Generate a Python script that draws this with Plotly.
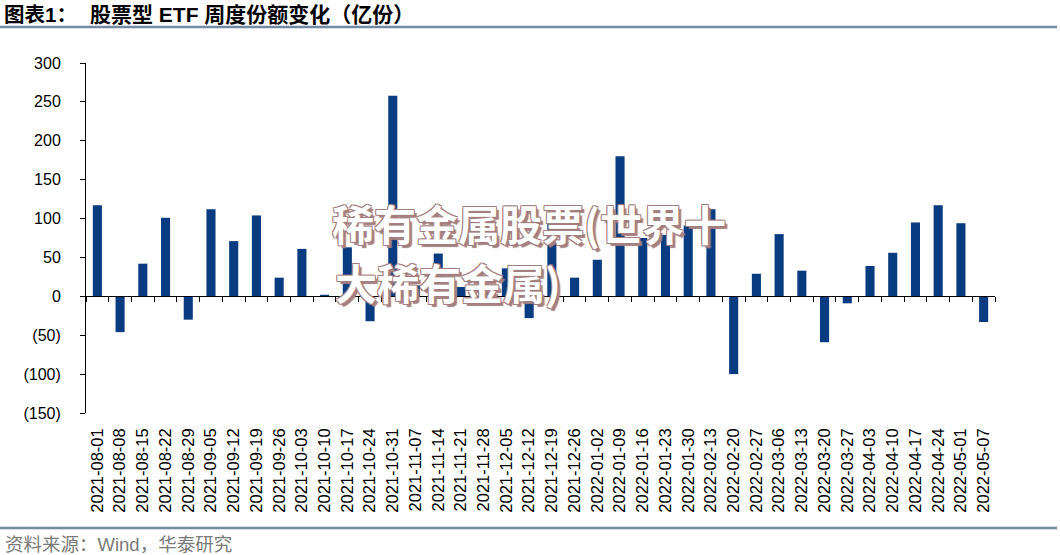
import plotly.graph_objects as go

weeks = [
    "2021-08-01", "2021-08-08", "2021-08-15", "2021-08-22", "2021-08-29",
    "2021-09-05", "2021-09-12", "2021-09-19", "2021-09-26", "2021-10-03",
    "2021-10-10", "2021-10-17", "2021-10-24", "2021-10-31", "2021-11-07",
    "2021-11-14", "2021-11-21", "2021-11-28", "2021-12-05", "2021-12-12",
    "2021-12-19", "2021-12-26", "2022-01-02", "2022-01-09", "2022-01-16",
    "2022-01-23", "2022-01-30", "2022-02-13", "2022-02-20", "2022-02-27",
    "2022-03-06", "2022-03-13", "2022-03-20", "2022-03-27", "2022-04-03",
    "2022-04-10", "2022-04-17", "2022-04-24", "2022-05-01", "2022-05-07",
]
share_change = [
    117, -46, 42, 101, -30,
    112, 71, 104, 24, 61,
    2, 63, -32, 258, 14,
    55, 12, 11, 36, -28,
    96, 24, 47, 180, 75,
    79, 91, 112, -100, 29,
    80, 33, -59, -9, 39,
    56, 95, 117, 94, -33,
]
y_tickvals = [300, 250, 200, 150, 100, 50, 0, -50, -100, -150]
y_ticktext = ["300", "250", "200", "150", "100", "50", "0", "(50)", "(100)", "(150)"]

title_prefix = "图表1："
title_text = "股票型 ETF 周度份额变化（亿份）"
source_text = "资料来源：Wind，华泰研究"
watermark_1 = "稀有金属股票(世界十"
watermark_2 = "大稀有金属)"

BAR = "#083B7F"
RULE = "#7489A2"
FONT = "Liberation Sans, Arial, Noto Sans CJK SC, sans-serif"

# plot area in pixels
L, R, T, B = 86, 995, 63, 413
W, H = 1060, 555
PW, PH = R - L, B - T


def px(x):
    return (x - L) / PW


def py(y):
    return (B - y) / PH


fig = go.Figure()
fig.add_trace(go.Bar(
    x=weeks, y=share_change, marker=dict(color=BAR, line=dict(width=0)),
    xaxis="x", yaxis="y", showlegend=False, hoverinfo="x+y",
))
fig.add_trace(go.Scatter(
    x=weeks, y=[None] * len(weeks), xaxis="x2", yaxis="y",
    mode="markers", showlegend=False, hoverinfo="skip",
))

fig.update_layout(
    width=W, height=H,
    margin=dict(l=L, r=W - R, t=T, b=H - B),
    paper_bgcolor="white", plot_bgcolor="white",
    bargap=0.6,
    font=dict(family=FONT, color="black"),
    xaxis=dict(
        type="category", categoryorder="array", categoryarray=weeks,
        range=[-0.5, len(weeks) - 0.5],
        anchor="free", position=150 / 450,
        showline=True, linecolor="black", linewidth=1,
        ticks="outside", ticklen=5, tickcolor="black", tickwidth=1,
        tickson="boundaries", showticklabels=False,
        showgrid=False, zeroline=False,
    ),
    xaxis2=dict(
        type="category", categoryorder="array", categoryarray=weeks,
        range=[-0.5, len(weeks) - 0.5], matches="x",
        overlaying="x", anchor="y", side="bottom",
        showline=False, ticks="", showgrid=False, zeroline=False,
        tickangle=-90, tickfont=dict(size=16.5, family=FONT, color="black"),
        ticklabelstandoff=11,
    ),
    yaxis=dict(
        range=[-150, 300], tickvals=y_tickvals, ticktext=y_ticktext,
        showline=True, linecolor="black", linewidth=1,
        ticks="outside", ticklen=5, tickcolor="black",
        tickfont=dict(size=16, family=FONT, color="black"),
        ticklabelstandoff=16,
        showgrid=False, zeroline=False,
    ),
)

annotations = [
    dict(text="<b>" + title_prefix + "</b>", x=px(2), y=py(14), xref="paper", yref="paper",
         xanchor="left", yanchor="middle", showarrow=False,
         font=dict(size=20.5, family="Liberation Sans, Noto Sans CJK SC", color="black")),
    dict(text="<b>" + title_text + "</b>", x=px(88), y=py(14), xref="paper", yref="paper",
         xanchor="left", yanchor="middle", showarrow=False,
         font=dict(size=21, family="Liberation Sans, Noto Sans CJK SC", color="black")),
    dict(text=source_text, x=px(3), y=py(544), xref="paper", yref="paper",
         xanchor="left", yanchor="middle", showarrow=False,
         font=dict(size=18.5, family="Liberation Sans, Noto Sans CJK SC", color="#7a7a7a")),
]
wm_shadow = ("1px 1px 0 #a47f80, -1px -1px 0 #a47f80, 1px -1px 0 #a47f80, "
             "-1px 1px 0 #a47f80, 3px 3px 1px #a47f80")
annotations.append(dict(text="<b>" + watermark_1 + "</b>", x=px(330), y=py(222),
                        xref="paper", yref="paper", xanchor="left", yanchor="middle",
                        showarrow=False,
                        font=dict(size=42, family="Noto Sans CJK SC", color="white",
                                  shadow=wm_shadow)))
annotations.append(dict(text="<b>" + watermark_2 + "</b>", x=px(333), y=py(281),
                        xref="paper", yref="paper", xanchor="left", yanchor="middle",
                        showarrow=False,
                        font=dict(size=42, family="Noto Sans CJK SC", color="white",
                                  shadow=wm_shadow)))
fig.update_layout(annotations=annotations)

fig.update_layout(shapes=[
    dict(type="line", xref="paper", yref="paper", x0=px(0), x1=px(1057),
         y0=py(27), y1=py(27), line=dict(color=RULE, width=2.5)),
    dict(type="line", xref="paper", yref="paper", x0=px(0), x1=px(1057),
         y0=py(528), y1=py(528), line=dict(color=RULE, width=2.5)),
])

fig.write_html("out.html")
